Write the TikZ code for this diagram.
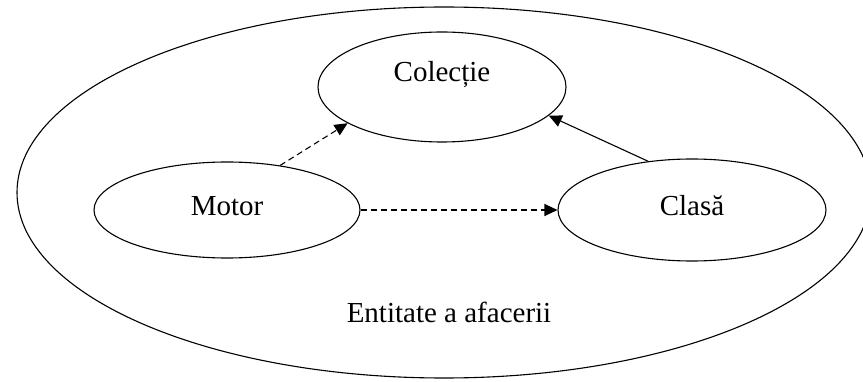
\documentclass[tikz,border=0pt]{standalone}
\usepackage{fontspec}
\setmainfont{Liberation Serif}
\usetikzlibrary{arrows.meta,shapes.geometric}
\begin{document}
\begin{tikzpicture}[x=1pt, y=-1pt, line width=1.1pt,
  main/.style = {draw, ellipse, inner sep=0pt, font=\fontsize{29}{35}\selectfont, text height=20pt, text depth=8pt},
  tip/.style = {-{Triangle[length=13pt,width=12pt]}},
  dep/.style = {dash pattern=on 6pt off 4pt}]
  \useasboundingbox (0,0) rectangle (863,382);
  \node[draw, ellipse, minimum width=854pt, minimum height=371pt] (entity) at (444,192.5) {};
  \node[anchor=base, font=\fontsize{29}{35}\selectfont] (entityname) at (449,323) {Entitate a afacerii};
  \node[main, minimum width=248pt, minimum height=110pt, text depth=30pt] (colectie) at (442,87) {Colecție};
  \node[main, minimum width=266pt, minimum height=96pt] (motor) at (227,210) {Motor};
  \node[main, minimum width=268pt, minimum height=102pt] (clasa) at (692,210) {Clasă};
  \draw[tip, dep] (motor.40) -- (colectie.201);
  \draw[tip, dep] (motor) -- (clasa);
  \draw[tip] (clasa.132) -- (colectie.345);
\end{tikzpicture}
\end{document}
